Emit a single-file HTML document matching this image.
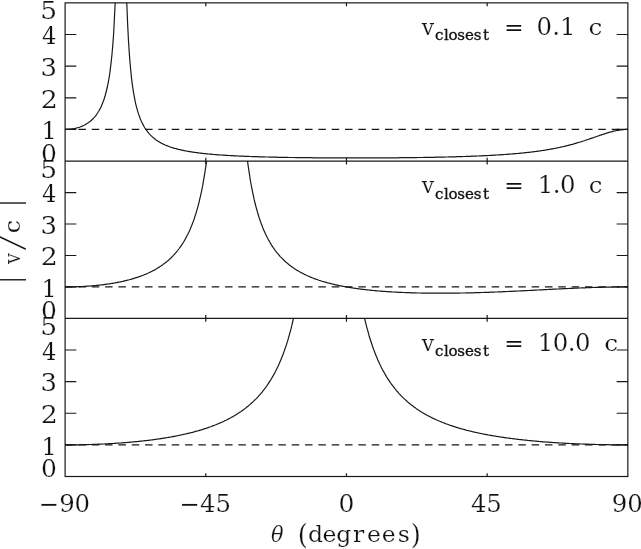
<!DOCTYPE html>
<html><head><meta charset="utf-8"><title>|v/c| vs theta</title>
<style>html,body{margin:0;padding:0;background:#fff;overflow:hidden}svg text{white-space:pre;font-kerning:none;font-variant-ligatures:none}</style></head>
<body>
<svg width="641" height="549" viewBox="0 0 641 549" style="display:block">
<rect width="641" height="549" fill="#fff"/>
<defs>
<clipPath id="cp0"><rect x="65.1" y="2.85" width="562.75" height="158.25"/></clipPath>
<clipPath id="cp1"><rect x="65.1" y="161.10" width="562.75" height="157.30"/></clipPath>
<clipPath id="cp2"><rect x="65.1" y="318.40" width="562.75" height="158.10"/></clipPath>
</defs>
<g fill="none" stroke="#181818" stroke-width="1.2" stroke-linecap="butt">
<rect x="65.1" y="2.85" width="562.75" height="473.65"/>
<line x1="65.1" y1="161.10" x2="627.85" y2="161.10"/>
<line x1="65.1" y1="318.40" x2="627.85" y2="318.40"/>
<path d="M65.1 129.45h11.2M627.85 129.45h-11.2M65.1 97.80h11.2M627.85 97.80h-11.2M65.1 66.15h11.2M627.85 66.15h-11.2M65.1 34.50h11.2M627.85 34.50h-11.2M205.79 2.85v3.3M205.79 161.10v-3.3M346.48 2.85v3.3M346.48 161.10v-3.3M487.16 2.85v3.3M487.16 161.10v-3.3M65.1 286.94h11.2M627.85 286.94h-11.2M65.1 255.48h11.2M627.85 255.48h-11.2M65.1 224.02h11.2M627.85 224.02h-11.2M65.1 192.56h11.2M627.85 192.56h-11.2M205.79 161.10v3.3M205.79 318.40v-3.3M346.48 161.10v3.3M346.48 318.40v-3.3M487.16 161.10v3.3M487.16 318.40v-3.3M65.1 444.88h11.2M627.85 444.88h-11.2M65.1 413.26h11.2M627.85 413.26h-11.2M65.1 381.64h11.2M627.85 381.64h-11.2M65.1 350.02h11.2M627.85 350.02h-11.2M205.79 318.40v3.3M205.79 476.50v-3.3M346.48 318.40v3.3M346.48 476.50v-3.3M487.16 318.40v3.3M487.16 476.50v-3.3"/>
<line x1="65.1" y1="129.45" x2="627.85" y2="129.45" stroke-dasharray="7.5 5.83"/>
<line x1="65.1" y1="286.94" x2="627.85" y2="286.94" stroke-dasharray="7.5 5.83"/>
<line x1="65.1" y1="444.88" x2="627.85" y2="444.88" stroke-dasharray="7.5 5.83"/>
<polyline clip-path="url(#cp0)" points="65.1,129.4 65.9,129.4 66.7,129.4 67.4,129.4 68.2,129.3 69.0,129.3 69.8,129.2 70.6,129.1 71.4,129.0 72.1,128.9 72.9,128.8 73.7,128.7 74.5,128.5 75.3,128.3 76.0,128.2 76.8,128.0 77.6,127.7 78.4,127.5 79.2,127.3 80.0,127.0 80.7,126.7 81.5,126.4 82.3,126.1 83.1,125.7 83.9,125.3 84.6,125.0 85.4,124.5 86.2,124.1 87.0,123.6 87.8,123.1 88.5,122.6 89.3,122.0 90.1,121.4 90.9,120.7 91.7,120.0 92.5,119.3 93.2,118.5 94.0,117.7 94.8,116.8 95.6,115.8 96.4,114.8 97.1,113.7 97.9,112.5 98.7,111.2 99.5,109.8 100.3,108.4 101.1,106.8 101.8,105.0 102.6,103.1 103.4,101.0 104.2,98.8 105.0,96.3 105.7,93.5 106.5,90.5 107.3,87.0 108.1,83.2 108.9,78.9 109.7,74.0 110.4,68.4 111.2,61.8 112.0,54.2 112.8,45.1 113.6,34.2 114.3,20.8 115.1,4.0 115.9,-17.7" stroke-linejoin="round"/>
<polyline clip-path="url(#cp0)" points="126.1,-23.3 126.8,3.4 127.6,23.5 128.4,39.3 129.2,51.9 130.0,62.2 130.8,70.9 131.5,78.2 132.3,84.4 133.1,89.9 133.9,94.6 134.7,98.8 135.4,102.6 136.2,105.9 137.0,108.9 137.8,111.6 138.6,114.1 139.4,116.3 140.1,118.4 140.9,120.3 141.7,122.0 142.5,123.6 143.3,125.1 144.0,126.5 144.8,127.8 145.6,129.0 146.4,130.2 147.2,131.2 147.9,132.2 148.7,133.2 149.5,134.1 150.3,134.9 151.1,135.7 151.9,136.4 152.6,137.1 153.4,137.8 154.2,138.5 155.0,139.1 155.8,139.7 156.5,140.2 157.3,140.7 158.1,141.2 158.9,141.7 159.7,142.2 160.5,142.6 161.2,143.1 162.0,143.5 162.8,143.9 163.6,144.2 164.4,144.6 165.1,145.0 165.9,145.3 166.7,145.6 167.5,145.9 168.3,146.2 169.1,146.5 169.8,146.8 170.6,147.1 171.4,147.3 172.2,147.6 173.0,147.8 173.7,148.1 174.5,148.3 175.3,148.5 176.1,148.7 176.9,148.9 177.7,149.1 178.4,149.3 179.2,149.5 180.0,149.7 180.8,149.9 181.6,150.1 182.3,150.2 183.1,150.4 183.9,150.6 184.7,150.7 185.5,150.9 186.2,151.0 187.0,151.2 187.8,151.3 188.6,151.4 189.4,151.6 190.2,151.7 190.9,151.8 191.7,151.9 192.5,152.1 193.3,152.2 194.1,152.3 194.8,152.4 195.6,152.5 196.4,152.6 197.2,152.7 198.0,152.8 198.8,152.9 199.5,153.0 200.3,153.1 201.1,153.2 201.9,153.3 202.7,153.4 203.4,153.5 204.2,153.6 205.0,153.6 205.8,153.7 206.6,153.8 207.4,153.9 208.1,154.0 208.9,154.0 209.7,154.1 210.5,154.2 211.3,154.2 212.0,154.3 212.8,154.4 213.6,154.5 214.4,154.5 215.2,154.6 215.9,154.6 216.7,154.7 217.5,154.8 218.3,154.8 219.1,154.9 219.9,154.9 220.6,155.0 221.4,155.0 222.2,155.1 223.0,155.1 223.8,155.2 224.5,155.2 225.3,155.3 226.1,155.3 226.9,155.4 227.7,155.4 228.5,155.5 229.2,155.5 230.0,155.6 230.8,155.6 231.6,155.7 232.4,155.7 233.1,155.7 233.9,155.8 234.7,155.8 235.5,155.9 236.3,155.9 237.1,155.9 237.8,156.0 238.6,156.0 239.4,156.1 240.2,156.1 241.0,156.1 241.7,156.2 242.5,156.2 243.3,156.2 244.1,156.3 244.9,156.3 245.6,156.3 246.4,156.3 247.2,156.4 248.0,156.4 248.8,156.4 249.6,156.5 250.3,156.5 251.1,156.5 251.9,156.6 252.7,156.6 253.5,156.6 254.2,156.6 255.0,156.7 255.8,156.7 256.6,156.7 257.4,156.7 258.2,156.8 258.9,156.8 259.7,156.8 260.5,156.8 261.3,156.8 262.1,156.9 262.8,156.9 263.6,156.9 264.4,156.9 265.2,157.0 266.0,157.0 266.8,157.0 267.5,157.0 268.3,157.0 269.1,157.1 269.9,157.1 270.7,157.1 271.4,157.1 272.2,157.1 273.0,157.1 273.8,157.2 274.6,157.2 275.3,157.2 276.1,157.2 276.9,157.2 277.7,157.3 278.5,157.3 279.3,157.3 280.0,157.3 280.8,157.3 281.6,157.3 282.4,157.3 283.2,157.4 283.9,157.4 284.7,157.4 285.5,157.4 286.3,157.4 287.1,157.4 287.9,157.4 288.6,157.5 289.4,157.5 290.2,157.5 291.0,157.5 291.8,157.5 292.5,157.5 293.3,157.5 294.1,157.5 294.9,157.5 295.7,157.6 296.5,157.6 297.2,157.6 298.0,157.6 298.8,157.6 299.6,157.6 300.4,157.6 301.1,157.6 301.9,157.6 302.7,157.6 303.5,157.7 304.3,157.7 305.1,157.7 305.8,157.7 306.6,157.7 307.4,157.7 308.2,157.7 309.0,157.7 309.7,157.7 310.5,157.7 311.3,157.7 312.1,157.7 312.9,157.8 313.6,157.8 314.4,157.8 315.2,157.8 316.0,157.8 316.8,157.8 317.6,157.8 318.3,157.8 319.1,157.8 319.9,157.8 320.7,157.8 321.5,157.8 322.2,157.8 323.0,157.8 323.8,157.8 324.6,157.8 325.4,157.9 326.2,157.9 326.9,157.9 327.7,157.9 328.5,157.9 329.3,157.9 330.1,157.9 330.8,157.9 331.6,157.9 332.4,157.9 333.2,157.9 334.0,157.9 334.8,157.9 335.5,157.9 336.3,157.9 337.1,157.9 337.9,157.9 338.7,157.9 339.4,157.9 340.2,157.9 341.0,157.9 341.8,157.9 342.6,157.9 343.3,157.9 344.1,157.9 344.9,157.9 345.7,157.9 346.5,157.9 347.3,157.9 348.0,157.9 348.8,157.9 349.6,157.9 350.4,157.9 351.2,157.9 351.9,157.9 352.7,157.9 353.5,157.9 354.3,157.9 355.1,157.9 355.9,157.9 356.6,157.9 357.4,157.9 358.2,157.9 359.0,157.9 359.8,157.9 360.5,157.9 361.3,157.9 362.1,157.9 362.9,157.9 363.7,157.9 364.5,157.9 365.2,157.9 366.0,157.9 366.8,157.9 367.6,157.9 368.4,157.9 369.1,157.9 369.9,157.9 370.7,157.9 371.5,157.9 372.3,157.9 373.0,157.9 373.8,157.9 374.6,157.9 375.4,157.9 376.2,157.9 377.0,157.9 377.7,157.9 378.5,157.9 379.3,157.9 380.1,157.9 380.9,157.9 381.6,157.9 382.4,157.9 383.2,157.9 384.0,157.9 384.8,157.9 385.6,157.9 386.3,157.8 387.1,157.8 387.9,157.8 388.7,157.8 389.5,157.8 390.2,157.8 391.0,157.8 391.8,157.8 392.6,157.8 393.4,157.8 394.2,157.8 394.9,157.8 395.7,157.8 396.5,157.8 397.3,157.8 398.1,157.8 398.8,157.8 399.6,157.7 400.4,157.7 401.2,157.7 402.0,157.7 402.8,157.7 403.5,157.7 404.3,157.7 405.1,157.7 405.9,157.7 406.7,157.7 407.4,157.7 408.2,157.7 409.0,157.6 409.8,157.6 410.6,157.6 411.3,157.6 412.1,157.6 412.9,157.6 413.7,157.6 414.5,157.6 415.3,157.6 416.0,157.6 416.8,157.6 417.6,157.5 418.4,157.5 419.2,157.5 419.9,157.5 420.7,157.5 421.5,157.5 422.3,157.5 423.1,157.5 423.9,157.4 424.6,157.4 425.4,157.4 426.2,157.4 427.0,157.4 427.8,157.4 428.5,157.4 429.3,157.4 430.1,157.3 430.9,157.3 431.7,157.3 432.5,157.3 433.2,157.3 434.0,157.3 434.8,157.3 435.6,157.2 436.4,157.2 437.1,157.2 437.9,157.2 438.7,157.2 439.5,157.2 440.3,157.1 441.0,157.1 441.8,157.1 442.6,157.1 443.4,157.1 444.2,157.1 445.0,157.0 445.7,157.0 446.5,157.0 447.3,157.0 448.1,157.0 448.9,156.9 449.6,156.9 450.4,156.9 451.2,156.9 452.0,156.9 452.8,156.8 453.6,156.8 454.3,156.8 455.1,156.8 455.9,156.8 456.7,156.7 457.5,156.7 458.2,156.7 459.0,156.7 459.8,156.6 460.6,156.6 461.4,156.6 462.2,156.6 462.9,156.5 463.7,156.5 464.5,156.5 465.3,156.5 466.1,156.4 466.8,156.4 467.6,156.4 468.4,156.4 469.2,156.3 470.0,156.3 470.7,156.3 471.5,156.2 472.3,156.2 473.1,156.2 473.9,156.1 474.7,156.1 475.4,156.1 476.2,156.1 477.0,156.0 477.8,156.0 478.6,156.0 479.3,155.9 480.1,155.9 480.9,155.9 481.7,155.8 482.5,155.8 483.3,155.7 484.0,155.7 484.8,155.7 485.6,155.6 486.4,155.6 487.2,155.6 487.9,155.5 488.7,155.5 489.5,155.4 490.3,155.4 491.1,155.3 491.9,155.3 492.6,155.3 493.4,155.2 494.2,155.2 495.0,155.1 495.8,155.1 496.5,155.0 497.3,155.0 498.1,154.9 498.9,154.9 499.7,154.8 500.4,154.8 501.2,154.7 502.0,154.7 502.8,154.6 503.6,154.6 504.4,154.5 505.1,154.5 505.9,154.4 506.7,154.4 507.5,154.3 508.3,154.2 509.0,154.2 509.8,154.1 510.6,154.1 511.4,154.0 512.2,153.9 513.0,153.9 513.7,153.8 514.5,153.7 515.3,153.7 516.1,153.6 516.9,153.5 517.6,153.5 518.4,153.4 519.2,153.3 520.0,153.3 520.8,153.2 521.6,153.1 522.3,153.0 523.1,152.9 523.9,152.9 524.7,152.8 525.5,152.7 526.2,152.6 527.0,152.5 527.8,152.4 528.6,152.4 529.4,152.3 530.2,152.2 530.9,152.1 531.7,152.0 532.5,151.9 533.3,151.8 534.1,151.7 534.8,151.6 535.6,151.5 536.4,151.4 537.2,151.3 538.0,151.2 538.7,151.1 539.5,151.0 540.3,150.8 541.1,150.7 541.9,150.6 542.7,150.5 543.4,150.4 544.2,150.3 545.0,150.1 545.8,150.0 546.6,149.9 547.3,149.7 548.1,149.6 548.9,149.5 549.7,149.3 550.5,149.2 551.3,149.1 552.0,148.9 552.8,148.8 553.6,148.6 554.4,148.5 555.2,148.3 555.9,148.2 556.7,148.0 557.5,147.8 558.3,147.7 559.1,147.5 559.9,147.4 560.6,147.2 561.4,147.0 562.2,146.8 563.0,146.7 563.8,146.5 564.5,146.3 565.3,146.1 566.1,145.9 566.9,145.7 567.7,145.5 568.4,145.3 569.2,145.1 570.0,144.9 570.8,144.7 571.6,144.5 572.4,144.3 573.1,144.1 573.9,143.8 574.7,143.6 575.5,143.4 576.3,143.2 577.0,142.9 577.8,142.7 578.6,142.5 579.4,142.2 580.2,142.0 581.0,141.8 581.7,141.5 582.5,141.3 583.3,141.0 584.1,140.8 584.9,140.5 585.6,140.2 586.4,140.0 587.2,139.7 588.0,139.5 588.8,139.2 589.6,138.9 590.3,138.7 591.1,138.4 591.9,138.1 592.7,137.9 593.5,137.6 594.2,137.3 595.0,137.0 595.8,136.8 596.6,136.5 597.4,136.2 598.1,136.0 598.9,135.7 599.7,135.4 600.5,135.2 601.3,134.9 602.1,134.6 602.8,134.4 603.6,134.1 604.4,133.9 605.2,133.6 606.0,133.4 606.7,133.1 607.5,132.9 608.3,132.7 609.1,132.4 609.9,132.2 610.7,132.0 611.4,131.8 612.2,131.6 613.0,131.4 613.8,131.2 614.6,131.0 615.3,130.8 616.1,130.7 616.9,130.5 617.7,130.4 618.5,130.3 619.3,130.1 620.0,130.0 620.8,129.9 621.6,129.8 622.4,129.7 623.2,129.7 623.9,129.6 624.7,129.5 625.5,129.5 626.3,129.5 627.1,129.5 627.9,129.4" stroke-linejoin="round"/>
<polyline clip-path="url(#cp1)" points="65.1,286.9 65.9,286.9 66.7,286.9 67.4,286.9 68.2,286.9 69.0,286.9 69.8,286.9 70.6,286.9 71.4,286.9 72.1,286.9 72.9,286.8 73.7,286.8 74.5,286.8 75.3,286.8 76.0,286.8 76.8,286.7 77.6,286.7 78.4,286.7 79.2,286.6 80.0,286.6 80.7,286.6 81.5,286.5 82.3,286.5 83.1,286.5 83.9,286.4 84.6,286.4 85.4,286.3 86.2,286.3 87.0,286.2 87.8,286.2 88.5,286.1 89.3,286.1 90.1,286.0 90.9,285.9 91.7,285.9 92.5,285.8 93.2,285.7 94.0,285.7 94.8,285.6 95.6,285.5 96.4,285.4 97.1,285.4 97.9,285.3 98.7,285.2 99.5,285.1 100.3,285.0 101.1,284.9 101.8,284.8 102.6,284.8 103.4,284.7 104.2,284.6 105.0,284.4 105.7,284.3 106.5,284.2 107.3,284.1 108.1,284.0 108.9,283.9 109.7,283.8 110.4,283.7 111.2,283.5 112.0,283.4 112.8,283.3 113.6,283.1 114.3,283.0 115.1,282.9 115.9,282.7 116.7,282.6 117.5,282.4 118.2,282.3 119.0,282.1 119.8,282.0 120.6,281.8 121.4,281.6 122.2,281.5 122.9,281.3 123.7,281.1 124.5,280.9 125.3,280.7 126.1,280.6 126.8,280.4 127.6,280.2 128.4,280.0 129.2,279.8 130.0,279.5 130.8,279.3 131.5,279.1 132.3,278.9 133.1,278.7 133.9,278.4 134.7,278.2 135.4,277.9 136.2,277.7 137.0,277.4 137.8,277.2 138.6,276.9 139.4,276.6 140.1,276.3 140.9,276.1 141.7,275.8 142.5,275.5 143.3,275.2 144.0,274.9 144.8,274.5 145.6,274.2 146.4,273.9 147.2,273.5 147.9,273.2 148.7,272.8 149.5,272.5 150.3,272.1 151.1,271.7 151.9,271.3 152.6,270.9 153.4,270.5 154.2,270.1 155.0,269.7 155.8,269.2 156.5,268.8 157.3,268.3 158.1,267.8 158.9,267.3 159.7,266.8 160.5,266.3 161.2,265.8 162.0,265.2 162.8,264.7 163.6,264.1 164.4,263.5 165.1,262.9 165.9,262.3 166.7,261.7 167.5,261.0 168.3,260.4 169.1,259.7 169.8,259.0 170.6,258.2 171.4,257.5 172.2,256.7 173.0,255.9 173.7,255.1 174.5,254.2 175.3,253.3 176.1,252.4 176.9,251.5 177.7,250.5 178.4,249.5 179.2,248.5 180.0,247.4 180.8,246.3 181.6,245.2 182.3,244.0 183.1,242.8 183.9,241.5 184.7,240.1 185.5,238.8 186.2,237.3 187.0,235.8 187.8,234.3 188.6,232.7 189.4,231.0 190.2,229.2 190.9,227.4 191.7,225.5 192.5,223.5 193.3,221.4 194.1,219.2 194.8,216.9 195.6,214.5 196.4,211.9 197.2,209.2 198.0,206.4 198.8,203.4 199.5,200.2 200.3,196.9 201.1,193.3 201.9,189.6 202.7,185.5 203.4,181.3 204.2,176.7 205.0,171.8 205.8,166.5 206.6,160.8 207.4,154.7 208.1,148.1" stroke-linejoin="round"/>
<polyline clip-path="url(#cp1)" points="245.6,145.2 246.4,152.2 247.2,158.6 248.0,164.6 248.8,170.1 249.6,175.2 250.3,180.0 251.1,184.5 251.9,188.6 252.7,192.6 253.5,196.3 254.2,199.7 255.0,203.0 255.8,206.1 256.6,209.0 257.4,211.8 258.2,214.5 258.9,217.0 259.7,219.3 260.5,221.6 261.3,223.8 262.1,225.8 262.8,227.8 263.6,229.7 264.4,231.5 265.2,233.2 266.0,234.9 266.8,236.5 267.5,238.0 268.3,239.5 269.1,240.9 269.9,242.3 270.7,243.6 271.4,244.9 272.2,246.1 273.0,247.3 273.8,248.4 274.6,249.5 275.3,250.6 276.1,251.6 276.9,252.6 277.7,253.5 278.5,254.5 279.3,255.4 280.0,256.3 280.8,257.1 281.6,257.9 282.4,258.7 283.2,259.5 283.9,260.2 284.7,261.0 285.5,261.7 286.3,262.4 287.1,263.1 287.9,263.7 288.6,264.3 289.4,265.0 290.2,265.6 291.0,266.2 291.8,266.7 292.5,267.3 293.3,267.8 294.1,268.4 294.9,268.9 295.7,269.4 296.5,269.9 297.2,270.4 298.0,270.8 298.8,271.3 299.6,271.7 300.4,272.2 301.1,272.6 301.9,273.0 302.7,273.4 303.5,273.8 304.3,274.2 305.1,274.6 305.8,275.0 306.6,275.3 307.4,275.7 308.2,276.0 309.0,276.4 309.7,276.7 310.5,277.1 311.3,277.4 312.1,277.7 312.9,278.0 313.6,278.3 314.4,278.6 315.2,278.9 316.0,279.2 316.8,279.5 317.6,279.7 318.3,280.0 319.1,280.3 319.9,280.5 320.7,280.8 321.5,281.0 322.2,281.3 323.0,281.5 323.8,281.7 324.6,282.0 325.4,282.2 326.2,282.4 326.9,282.6 327.7,282.8 328.5,283.0 329.3,283.2 330.1,283.4 330.8,283.6 331.6,283.8 332.4,284.0 333.2,284.2 334.0,284.4 334.8,284.6 335.5,284.8 336.3,284.9 337.1,285.1 337.9,285.3 338.7,285.4 339.4,285.6 340.2,285.8 341.0,285.9 341.8,286.1 342.6,286.2 343.3,286.4 344.1,286.5 344.9,286.7 345.7,286.8 346.5,286.9 347.3,287.1 348.0,287.2 348.8,287.3 349.6,287.5 350.4,287.6 351.2,287.7 351.9,287.8 352.7,288.0 353.5,288.1 354.3,288.2 355.1,288.3 355.9,288.4 356.6,288.5 357.4,288.6 358.2,288.8 359.0,288.9 359.8,289.0 360.5,289.1 361.3,289.2 362.1,289.3 362.9,289.4 363.7,289.4 364.5,289.5 365.2,289.6 366.0,289.7 366.8,289.8 367.6,289.9 368.4,290.0 369.1,290.1 369.9,290.1 370.7,290.2 371.5,290.3 372.3,290.4 373.0,290.5 373.8,290.5 374.6,290.6 375.4,290.7 376.2,290.8 377.0,290.8 377.7,290.9 378.5,291.0 379.3,291.0 380.1,291.1 380.9,291.1 381.6,291.2 382.4,291.3 383.2,291.3 384.0,291.4 384.8,291.4 385.6,291.5 386.3,291.6 387.1,291.6 387.9,291.7 388.7,291.7 389.5,291.8 390.2,291.8 391.0,291.9 391.8,291.9 392.6,292.0 393.4,292.0 394.2,292.0 394.9,292.1 395.7,292.1 396.5,292.2 397.3,292.2 398.1,292.3 398.8,292.3 399.6,292.3 400.4,292.4 401.2,292.4 402.0,292.4 402.8,292.5 403.5,292.5 404.3,292.5 405.1,292.6 405.9,292.6 406.7,292.6 407.4,292.7 408.2,292.7 409.0,292.7 409.8,292.7 410.6,292.8 411.3,292.8 412.1,292.8 412.9,292.8 413.7,292.9 414.5,292.9 415.3,292.9 416.0,292.9 416.8,293.0 417.6,293.0 418.4,293.0 419.2,293.0 419.9,293.0 420.7,293.0 421.5,293.1 422.3,293.1 423.1,293.1 423.9,293.1 424.6,293.1 425.4,293.1 426.2,293.1 427.0,293.1 427.8,293.2 428.5,293.2 429.3,293.2 430.1,293.2 430.9,293.2 431.7,293.2 432.5,293.2 433.2,293.2 434.0,293.2 434.8,293.2 435.6,293.2 436.4,293.2 437.1,293.2 437.9,293.2 438.7,293.2 439.5,293.2 440.3,293.2 441.0,293.2 441.8,293.2 442.6,293.2 443.4,293.2 444.2,293.2 445.0,293.2 445.7,293.2 446.5,293.2 447.3,293.2 448.1,293.2 448.9,293.2 449.6,293.2 450.4,293.2 451.2,293.2 452.0,293.2 452.8,293.2 453.6,293.2 454.3,293.1 455.1,293.1 455.9,293.1 456.7,293.1 457.5,293.1 458.2,293.1 459.0,293.1 459.8,293.1 460.6,293.0 461.4,293.0 462.2,293.0 462.9,293.0 463.7,293.0 464.5,293.0 465.3,293.0 466.1,292.9 466.8,292.9 467.6,292.9 468.4,292.9 469.2,292.9 470.0,292.9 470.7,292.8 471.5,292.8 472.3,292.8 473.1,292.8 473.9,292.8 474.7,292.7 475.4,292.7 476.2,292.7 477.0,292.7 477.8,292.6 478.6,292.6 479.3,292.6 480.1,292.6 480.9,292.5 481.7,292.5 482.5,292.5 483.3,292.5 484.0,292.4 484.8,292.4 485.6,292.4 486.4,292.4 487.2,292.3 487.9,292.3 488.7,292.3 489.5,292.3 490.3,292.2 491.1,292.2 491.9,292.2 492.6,292.1 493.4,292.1 494.2,292.1 495.0,292.0 495.8,292.0 496.5,292.0 497.3,292.0 498.1,291.9 498.9,291.9 499.7,291.9 500.4,291.8 501.2,291.8 502.0,291.8 502.8,291.7 503.6,291.7 504.4,291.7 505.1,291.6 505.9,291.6 506.7,291.5 507.5,291.5 508.3,291.5 509.0,291.4 509.8,291.4 510.6,291.4 511.4,291.3 512.2,291.3 513.0,291.3 513.7,291.2 514.5,291.2 515.3,291.2 516.1,291.1 516.9,291.1 517.6,291.0 518.4,291.0 519.2,291.0 520.0,290.9 520.8,290.9 521.6,290.8 522.3,290.8 523.1,290.8 523.9,290.7 524.7,290.7 525.5,290.6 526.2,290.6 527.0,290.6 527.8,290.5 528.6,290.5 529.4,290.5 530.2,290.4 530.9,290.4 531.7,290.3 532.5,290.3 533.3,290.3 534.1,290.2 534.8,290.2 535.6,290.1 536.4,290.1 537.2,290.0 538.0,290.0 538.7,290.0 539.5,289.9 540.3,289.9 541.1,289.8 541.9,289.8 542.7,289.8 543.4,289.7 544.2,289.7 545.0,289.6 545.8,289.6 546.6,289.6 547.3,289.5 548.1,289.5 548.9,289.4 549.7,289.4 550.5,289.4 551.3,289.3 552.0,289.3 552.8,289.2 553.6,289.2 554.4,289.2 555.2,289.1 555.9,289.1 556.7,289.0 557.5,289.0 558.3,289.0 559.1,288.9 559.9,288.9 560.6,288.9 561.4,288.8 562.2,288.8 563.0,288.7 563.8,288.7 564.5,288.7 565.3,288.6 566.1,288.6 566.9,288.6 567.7,288.5 568.4,288.5 569.2,288.4 570.0,288.4 570.8,288.4 571.6,288.3 572.4,288.3 573.1,288.3 573.9,288.2 574.7,288.2 575.5,288.2 576.3,288.1 577.0,288.1 577.8,288.1 578.6,288.0 579.4,288.0 580.2,288.0 581.0,287.9 581.7,287.9 582.5,287.9 583.3,287.9 584.1,287.8 584.9,287.8 585.6,287.8 586.4,287.7 587.2,287.7 588.0,287.7 588.8,287.7 589.6,287.6 590.3,287.6 591.1,287.6 591.9,287.5 592.7,287.5 593.5,287.5 594.2,287.5 595.0,287.4 595.8,287.4 596.6,287.4 597.4,287.4 598.1,287.4 598.9,287.3 599.7,287.3 600.5,287.3 601.3,287.3 602.1,287.3 602.8,287.2 603.6,287.2 604.4,287.2 605.2,287.2 606.0,287.2 606.7,287.2 607.5,287.1 608.3,287.1 609.1,287.1 609.9,287.1 610.7,287.1 611.4,287.1 612.2,287.1 613.0,287.0 613.8,287.0 614.6,287.0 615.3,287.0 616.1,287.0 616.9,287.0 617.7,287.0 618.5,287.0 619.3,287.0 620.0,287.0 620.8,287.0 621.6,287.0 622.4,287.0 623.2,287.0 623.9,286.9 624.7,286.9 625.5,286.9 626.3,286.9 627.1,286.9 627.9,286.9" stroke-linejoin="round"/>
<polyline clip-path="url(#cp2)" points="65.1,444.9 65.9,444.9 66.7,444.9 67.4,444.9 68.2,444.9 69.0,444.9 69.8,444.9 70.6,444.9 71.4,444.9 72.1,444.9 72.9,444.8 73.7,444.8 74.5,444.8 75.3,444.8 76.0,444.8 76.8,444.8 77.6,444.8 78.4,444.8 79.2,444.8 80.0,444.7 80.7,444.7 81.5,444.7 82.3,444.7 83.1,444.7 83.9,444.7 84.6,444.7 85.4,444.6 86.2,444.6 87.0,444.6 87.8,444.6 88.5,444.6 89.3,444.5 90.1,444.5 90.9,444.5 91.7,444.5 92.5,444.4 93.2,444.4 94.0,444.4 94.8,444.4 95.6,444.3 96.4,444.3 97.1,444.3 97.9,444.2 98.7,444.2 99.5,444.2 100.3,444.1 101.1,444.1 101.8,444.1 102.6,444.0 103.4,444.0 104.2,444.0 105.0,443.9 105.7,443.9 106.5,443.8 107.3,443.8 108.1,443.8 108.9,443.7 109.7,443.7 110.4,443.6 111.2,443.6 112.0,443.5 112.8,443.5 113.6,443.4 114.3,443.4 115.1,443.3 115.9,443.3 116.7,443.2 117.5,443.2 118.2,443.1 119.0,443.1 119.8,443.0 120.6,443.0 121.4,442.9 122.2,442.9 122.9,442.8 123.7,442.7 124.5,442.7 125.3,442.6 126.1,442.6 126.8,442.5 127.6,442.4 128.4,442.4 129.2,442.3 130.0,442.2 130.8,442.2 131.5,442.1 132.3,442.0 133.1,441.9 133.9,441.9 134.7,441.8 135.4,441.7 136.2,441.6 137.0,441.6 137.8,441.5 138.6,441.4 139.4,441.3 140.1,441.2 140.9,441.2 141.7,441.1 142.5,441.0 143.3,440.9 144.0,440.8 144.8,440.7 145.6,440.6 146.4,440.6 147.2,440.5 147.9,440.4 148.7,440.3 149.5,440.2 150.3,440.1 151.1,440.0 151.9,439.9 152.6,439.8 153.4,439.7 154.2,439.6 155.0,439.5 155.8,439.3 156.5,439.2 157.3,439.1 158.1,439.0 158.9,438.9 159.7,438.8 160.5,438.7 161.2,438.6 162.0,438.4 162.8,438.3 163.6,438.2 164.4,438.1 165.1,437.9 165.9,437.8 166.7,437.7 167.5,437.5 168.3,437.4 169.1,437.3 169.8,437.1 170.6,437.0 171.4,436.9 172.2,436.7 173.0,436.6 173.7,436.4 174.5,436.3 175.3,436.1 176.1,436.0 176.9,435.8 177.7,435.7 178.4,435.5 179.2,435.4 180.0,435.2 180.8,435.0 181.6,434.9 182.3,434.7 183.1,434.5 183.9,434.3 184.7,434.2 185.5,434.0 186.2,433.8 187.0,433.6 187.8,433.4 188.6,433.3 189.4,433.1 190.2,432.9 190.9,432.7 191.7,432.5 192.5,432.3 193.3,432.1 194.1,431.9 194.8,431.7 195.6,431.4 196.4,431.2 197.2,431.0 198.0,430.8 198.8,430.6 199.5,430.3 200.3,430.1 201.1,429.9 201.9,429.6 202.7,429.4 203.4,429.1 204.2,428.9 205.0,428.6 205.8,428.4 206.6,428.1 207.4,427.9 208.1,427.6 208.9,427.3 209.7,427.0 210.5,426.8 211.3,426.5 212.0,426.2 212.8,425.9 213.6,425.6 214.4,425.3 215.2,425.0 215.9,424.7 216.7,424.4 217.5,424.0 218.3,423.7 219.1,423.4 219.9,423.1 220.6,422.7 221.4,422.4 222.2,422.0 223.0,421.7 223.8,421.3 224.5,420.9 225.3,420.5 226.1,420.2 226.9,419.8 227.7,419.4 228.5,419.0 229.2,418.6 230.0,418.2 230.8,417.7 231.6,417.3 232.4,416.9 233.1,416.4 233.9,416.0 234.7,415.5 235.5,415.0 236.3,414.6 237.1,414.1 237.8,413.6 238.6,413.1 239.4,412.6 240.2,412.0 241.0,411.5 241.7,411.0 242.5,410.4 243.3,409.8 244.1,409.3 244.9,408.7 245.6,408.1 246.4,407.5 247.2,406.8 248.0,406.2 248.8,405.6 249.6,404.9 250.3,404.2 251.1,403.5 251.9,402.8 252.7,402.1 253.5,401.4 254.2,400.6 255.0,399.8 255.8,399.1 256.6,398.3 257.4,397.4 258.2,396.6 258.9,395.7 259.7,394.9 260.5,394.0 261.3,393.0 262.1,392.1 262.8,391.1 263.6,390.1 264.4,389.1 265.2,388.1 266.0,387.0 266.8,385.9 267.5,384.8 268.3,383.6 269.1,382.4 269.9,381.2 270.7,380.0 271.4,378.7 272.2,377.4 273.0,376.0 273.8,374.6 274.6,373.2 275.3,371.7 276.1,370.2 276.9,368.6 277.7,367.0 278.5,365.3 279.3,363.5 280.0,361.8 280.8,359.9 281.6,358.0 282.4,356.0 283.2,354.0 283.9,351.9 284.7,349.7 285.5,347.4 286.3,345.1 287.1,342.6 287.9,340.1 288.6,337.4 289.4,334.7 290.2,331.8 291.0,328.9 291.8,325.7 292.5,322.5 293.3,319.1 294.1,315.6 294.9,311.9 295.7,308.0" stroke-linejoin="round"/>
<polyline clip-path="url(#cp2)" points="362.1,306.9 362.9,310.7 363.7,314.3 364.5,317.8 365.2,321.1 366.0,324.2 366.8,327.3 367.6,330.2 368.4,333.0 369.1,335.7 369.9,338.3 370.7,340.8 371.5,343.2 372.3,345.5 373.0,347.8 373.8,349.9 374.6,352.0 375.4,354.0 376.2,356.0 377.0,357.8 377.7,359.7 378.5,361.4 379.3,363.1 380.1,364.8 380.9,366.4 381.6,367.9 382.4,369.5 383.2,370.9 384.0,372.3 384.8,373.7 385.6,375.1 386.3,376.4 387.1,377.7 387.9,378.9 388.7,380.1 389.5,381.3 390.2,382.4 391.0,383.5 391.8,384.6 392.6,385.7 393.4,386.7 394.2,387.7 394.9,388.7 395.7,389.6 396.5,390.6 397.3,391.5 398.1,392.4 398.8,393.3 399.6,394.1 400.4,395.0 401.2,395.8 402.0,396.6 402.8,397.3 403.5,398.1 404.3,398.9 405.1,399.6 405.9,400.3 406.7,401.0 407.4,401.7 408.2,402.4 409.0,403.0 409.8,403.7 410.6,404.3 411.3,404.9 412.1,405.5 412.9,406.1 413.7,406.7 414.5,407.3 415.3,407.8 416.0,408.4 416.8,408.9 417.6,409.5 418.4,410.0 419.2,410.5 419.9,411.0 420.7,411.5 421.5,412.0 422.3,412.5 423.1,412.9 423.9,413.4 424.6,413.9 425.4,414.3 426.2,414.7 427.0,415.2 427.8,415.6 428.5,416.0 429.3,416.4 430.1,416.8 430.9,417.2 431.7,417.6 432.5,418.0 433.2,418.4 434.0,418.7 434.8,419.1 435.6,419.5 436.4,419.8 437.1,420.2 437.9,420.5 438.7,420.8 439.5,421.2 440.3,421.5 441.0,421.8 441.8,422.1 442.6,422.5 443.4,422.8 444.2,423.1 445.0,423.4 445.7,423.7 446.5,424.0 447.3,424.2 448.1,424.5 448.9,424.8 449.6,425.1 450.4,425.4 451.2,425.6 452.0,425.9 452.8,426.1 453.6,426.4 454.3,426.7 455.1,426.9 455.9,427.1 456.7,427.4 457.5,427.6 458.2,427.9 459.0,428.1 459.8,428.3 460.6,428.6 461.4,428.8 462.2,429.0 462.9,429.2 463.7,429.4 464.5,429.6 465.3,429.8 466.1,430.1 466.8,430.3 467.6,430.5 468.4,430.7 469.2,430.9 470.0,431.0 470.7,431.2 471.5,431.4 472.3,431.6 473.1,431.8 473.9,432.0 474.7,432.2 475.4,432.3 476.2,432.5 477.0,432.7 477.8,432.8 478.6,433.0 479.3,433.2 480.1,433.3 480.9,433.5 481.7,433.7 482.5,433.8 483.3,434.0 484.0,434.1 484.8,434.3 485.6,434.4 486.4,434.6 487.2,434.7 487.9,434.9 488.7,435.0 489.5,435.2 490.3,435.3 491.1,435.4 491.9,435.6 492.6,435.7 493.4,435.9 494.2,436.0 495.0,436.1 495.8,436.2 496.5,436.4 497.3,436.5 498.1,436.6 498.9,436.7 499.7,436.9 500.4,437.0 501.2,437.1 502.0,437.2 502.8,437.3 503.6,437.4 504.4,437.6 505.1,437.7 505.9,437.8 506.7,437.9 507.5,438.0 508.3,438.1 509.0,438.2 509.8,438.3 510.6,438.4 511.4,438.5 512.2,438.6 513.0,438.7 513.7,438.8 514.5,438.9 515.3,439.0 516.1,439.1 516.9,439.2 517.6,439.3 518.4,439.4 519.2,439.5 520.0,439.6 520.8,439.7 521.6,439.7 522.3,439.8 523.1,439.9 523.9,440.0 524.7,440.1 525.5,440.2 526.2,440.2 527.0,440.3 527.8,440.4 528.6,440.5 529.4,440.6 530.2,440.6 530.9,440.7 531.7,440.8 532.5,440.9 533.3,440.9 534.1,441.0 534.8,441.1 535.6,441.2 536.4,441.2 537.2,441.3 538.0,441.4 538.7,441.4 539.5,441.5 540.3,441.6 541.1,441.6 541.9,441.7 542.7,441.8 543.4,441.8 544.2,441.9 545.0,441.9 545.8,442.0 546.6,442.1 547.3,442.1 548.1,442.2 548.9,442.2 549.7,442.3 550.5,442.3 551.3,442.4 552.0,442.4 552.8,442.5 553.6,442.6 554.4,442.6 555.2,442.7 555.9,442.7 556.7,442.8 557.5,442.8 558.3,442.9 559.1,442.9 559.9,443.0 560.6,443.0 561.4,443.0 562.2,443.1 563.0,443.1 563.8,443.2 564.5,443.2 565.3,443.3 566.1,443.3 566.9,443.3 567.7,443.4 568.4,443.4 569.2,443.5 570.0,443.5 570.8,443.5 571.6,443.6 572.4,443.6 573.1,443.7 573.9,443.7 574.7,443.7 575.5,443.8 576.3,443.8 577.0,443.8 577.8,443.9 578.6,443.9 579.4,443.9 580.2,444.0 581.0,444.0 581.7,444.0 582.5,444.0 583.3,444.1 584.1,444.1 584.9,444.1 585.6,444.2 586.4,444.2 587.2,444.2 588.0,444.2 588.8,444.3 589.6,444.3 590.3,444.3 591.1,444.3 591.9,444.4 592.7,444.4 593.5,444.4 594.2,444.4 595.0,444.4 595.8,444.5 596.6,444.5 597.4,444.5 598.1,444.5 598.9,444.5 599.7,444.6 600.5,444.6 601.3,444.6 602.1,444.6 602.8,444.6 603.6,444.6 604.4,444.7 605.2,444.7 606.0,444.7 606.7,444.7 607.5,444.7 608.3,444.7 609.1,444.7 609.9,444.8 610.7,444.8 611.4,444.8 612.2,444.8 613.0,444.8 613.8,444.8 614.6,444.8 615.3,444.8 616.1,444.8 616.9,444.8 617.7,444.8 618.5,444.8 619.3,444.9 620.0,444.9 620.8,444.9 621.6,444.9 622.4,444.9 623.2,444.9 623.9,444.9 624.7,444.9 625.5,444.9 626.3,444.9 627.1,444.9 627.9,444.9" stroke-linejoin="round"/>
</g>
<g fill="#111" stroke="#fff" stroke-width="0.18" paint-order="fill stroke" font-family='"DejaVu Serif", "Liberation Serif", serif' font-size="22.6">
<text transform="translate(40.95 161.50) scale(1.1064 1.0400)">0</text>
<text transform="translate(41.48 139.25) scale(1.0584 1.0400)">1</text>
<text transform="translate(40.78 107.60) scale(1.1857 1.0400)">2</text>
<text transform="translate(40.62 75.95) scale(1.1475 1.0400)">3</text>
<text transform="translate(41.90 44.30) scale(1.0042 1.0400)">4</text>
<text transform="translate(40.34 19.35) scale(1.1759 1.0400)">5</text>
<text transform="translate(40.95 318.80) scale(1.1064 1.0400)">0</text>
<text transform="translate(41.48 296.74) scale(1.0584 1.0400)">1</text>
<text transform="translate(40.78 265.28) scale(1.1857 1.0400)">2</text>
<text transform="translate(40.62 233.82) scale(1.1475 1.0400)">3</text>
<text transform="translate(41.90 202.36) scale(1.0042 1.0400)">4</text>
<text transform="translate(40.34 177.60) scale(1.1759 1.0400)">5</text>
<text transform="translate(40.95 476.90) scale(1.1064 1.0400)">0</text>
<text transform="translate(41.48 454.68) scale(1.0584 1.0400)">1</text>
<text transform="translate(40.78 423.06) scale(1.1857 1.0400)">2</text>
<text transform="translate(40.62 391.44) scale(1.1475 1.0400)">3</text>
<text transform="translate(41.90 359.82) scale(1.0042 1.0400)">4</text>
<text transform="translate(40.34 334.90) scale(1.1759 1.0400)">5</text>
<text transform="translate(38.81 512.20) scale(1.0800 1.0400)" letter-spacing="-0.094">−90</text>
<text transform="translate(179.41 512.20) scale(1.0800 1.0400)" letter-spacing="0.028">−45</text>
<text transform="translate(338.55 512.20) scale(1.1064 1.0400)">0</text>
<text transform="translate(471.05 512.20) scale(1.0800 1.0400)" letter-spacing="-0.208">45</text>
<text transform="translate(611.66 512.20) scale(1.0800 1.0400)" letter-spacing="0.093">90</text>
<text transform="translate(270.98 542.00) scale(0.9225 1.0000)" font-style="italic">θ</text>
<text transform="translate(297.85 543.88) scale(1.1443 1.2276)">(</text>
<text x="296.21 310.09 323.26 339.33 352.78 367.01 382.42" transform="translate(0 542.10) scale(1.0400 1)">degrees</text>
<text transform="translate(410.87 543.88) scale(1.1420 1.2276)">)</text>
<text transform="translate(421.76 35.05) scale(0.9712 1.0000)">v</text>
<text x="418.19 426.90 431.17 439.75 447.01 455.55 464.48" transform="translate(0 40.45) scale(1.0400 1)" font-size="14.5" stroke="#111" stroke-width="0.3">closest</text>
<text transform="translate(504.09 35.05) scale(1.0462 1.0000)">=</text>
<text transform="translate(536.59 35.05) scale(1.0800 1.0400)" letter-spacing="0.028">0.1</text>
<text transform="translate(588.57 35.05) scale(1.0958 1.0000)">c</text>
<text transform="translate(421.76 193.30) scale(0.9712 1.0000)">v</text>
<text x="418.19 426.90 431.17 439.75 447.01 455.55 464.48" transform="translate(0 198.70) scale(1.0400 1)" font-size="14.5" stroke="#111" stroke-width="0.3">closest</text>
<text transform="translate(504.09 193.30) scale(1.0462 1.0000)">=</text>
<text transform="translate(537.82 193.30) scale(1.0800 1.0400)" letter-spacing="-0.563">1.0</text>
<text transform="translate(588.68 193.30) scale(1.0863 1.0000)">c</text>
<text transform="translate(421.76 350.60) scale(0.9712 1.0000)">v</text>
<text x="418.19 426.90 431.17 439.75 447.01 455.55 464.48" transform="translate(0 356.00) scale(1.0400 1)" font-size="14.5" stroke="#111" stroke-width="0.3">closest</text>
<text transform="translate(504.09 350.60) scale(1.0462 1.0000)">=</text>
<text transform="translate(537.82 350.60) scale(1.0800 1.0400)" letter-spacing="-0.477">10.0</text>
<text transform="translate(604.37 350.60) scale(1.0958 1.0000)">c</text>
<text transform="translate(20.16 282.78) rotate(-90) scale(0.7831 1.1150)" stroke-width="0">|</text>
<text transform="translate(20.30 264.04) rotate(-90) scale(0.8616 1.0000)">v</text>
<text transform="translate(23.91 251.60) rotate(-90) scale(2.2327 1.4753)" stroke-width="1.0">/</text>
<text transform="translate(20.30 233.28) rotate(-90) scale(1.0482 1.0000)">c</text>
<text transform="translate(20.16 206.08) rotate(-90) scale(0.7831 1.1150)" stroke-width="0">|</text>
</g>
</svg>
</body></html>
